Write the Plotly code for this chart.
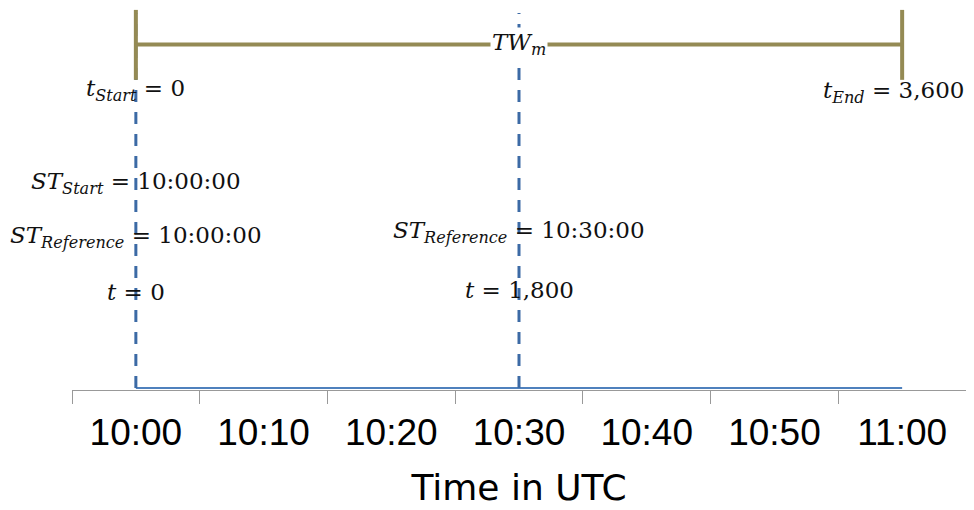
import plotly.graph_objects as go

# ---- data ----
times = ["10:00", "10:10", "10:20", "10:30", "10:40", "10:50", "11:00"]
timeline_values = [0, 0, 0, 0, 0, 0, 0]
reference_times = ["10:00", "10:30"]
window_start = "10:00"
window_end = "11:00"

# ---- layout constants (positions in y data units) ----
Y_DASH_TOP = 98.7
Y_WINDOW = 90.4
Y_CAP_LOW = 81.1
Y_CAP_HIGH = 99.5

OLIVE = "#948a54"
DASH_BLUE = "#3c6aa5"
LINE_BLUE = "#4f81bd"
SERIF = "DejaVu Serif"

fig = go.Figure()

# base timeline series
fig.add_trace(go.Scatter(x=times, y=timeline_values, mode="lines",
                         line=dict(color=LINE_BLUE, width=2), hoverinfo="skip"))

# dashed reference lines
for rt in reference_times:
    fig.add_trace(go.Scatter(x=[rt, rt], y=[0, Y_DASH_TOP], mode="lines",
                             line=dict(color=DASH_BLUE, width=3, dash="12px,10px"),
                             hoverinfo="skip"))

# time window bar with end caps
fig.add_trace(go.Scatter(x=[window_start, window_end], y=[Y_WINDOW, Y_WINDOW], mode="lines",
                         line=dict(color=OLIVE, width=4), hoverinfo="skip"))
for xc in [window_start, window_end]:
    fig.add_trace(go.Scatter(x=[xc, xc], y=[Y_CAP_LOW, Y_CAP_HIGH], mode="lines",
                             line=dict(color=OLIVE, width=4), hoverinfo="skip"))

afont = dict(family=SERIF, size=23, color="#111111")
annos = [
    ("10:00", 78.4, "<i>t</i><sub><i>Start</i></sub> = 0", "center", 0),
    ("10:00", 54.0, "<i>ST</i><sub><i>Start</i></sub> = 10:00:00", "center", 0),
    ("10:00", 39.8, "<i>ST</i><sub><i>Reference</i></sub> = 10:00:00", "center", 0),
    ("10:00", 25.3, "<i>t</i> = 0", "center", 0),
    ("10:30", 41.1, "<i>ST</i><sub><i>Reference</i></sub> = 10:30:00", "center", 0),
    ("10:30", 25.8, "<i>t</i> = 1,800", "center", 0),
    ("11:00", 77.9, "<i>t</i><sub><i>End</i></sub> = 3,600", "right", 64),
]
for xa, ya, txt, anchor, shift in annos:
    fig.add_annotation(x=xa, y=ya, xref="x", yref="y", text=txt, showarrow=False,
                       font=afont, xanchor=anchor, yanchor="middle", xshift=shift)

fig.add_annotation(x="10:30", y=Y_WINDOW, xref="x", yref="y",
                   text="<i>TW</i><sub><i>m</i></sub>", showarrow=False,
                   font=dict(family=SERIF, size=23, color="#111111"),
                   bgcolor="white", borderpad=1, xanchor="center", yanchor="middle")

# page body has an 8px margin, so the figure is sized/offset to compensate
fig.update_layout(
    width=966, height=502,
    margin=dict(l=64, r=8, t=0, b=120),
    plot_bgcolor="white", paper_bgcolor="white",
    showlegend=False,
)
fig.update_xaxes(
    type="category", categoryorder="array", categoryarray=times,
    range=[-0.5, 6.5],
    tickson="boundaries", ticks="outside", ticklen=13, tickcolor="#999999", tickwidth=1,
    showline=True, linecolor="#999999", linewidth=1,
    showgrid=False, zeroline=False,
    ticklabelstandoff=10,
    tickfont=dict(family="Liberation Sans", size=37, color="black"),
    title=dict(text="Time in UTC", font=dict(family="DejaVu Sans", size=36, color="black"),
               standoff=22),
)
fig.update_yaxes(range=[-0.5, 100], visible=False, showgrid=False, zeroline=False)

fig.write_html("out.html")
